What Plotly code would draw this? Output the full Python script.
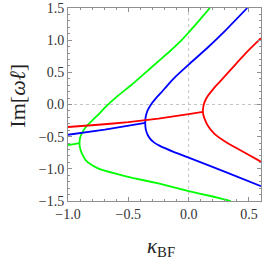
import plotly.graph_objects as go

# ---- data ----
green_short_x = [-1.0, -0.95, -0.905]
green_short_y = [-0.63, -0.615, -0.60]
green_up_x = [-0.905, -0.902, -0.895, -0.88, -0.86, -0.838, -0.80, -0.755, -0.69, -0.59, -0.47, -0.30, -0.16, -0.058, 0.0, 0.09, 0.176]
green_up_y = [-0.60, -0.54, -0.49, -0.43, -0.37, -0.32, -0.25, -0.17, -0.04, 0.13, 0.31, 0.59, 0.82, 1.0, 1.12, 1.31, 1.5]
green_lo_x = [-0.905, -0.902, -0.895, -0.88, -0.852, -0.80, -0.742, -0.604, -0.467, -0.242, 0.0, 0.2, 0.35]
green_lo_y = [-0.60, -0.66, -0.71, -0.78, -0.868, -0.945, -1.0, -1.075, -1.14, -1.23, -1.345, -1.43, -1.5]

blue_merge_x = [-1.0, -0.695, -0.36]
blue_merge_y = [-0.47, -0.39, -0.285]
blue_up_x = [-0.36, -0.358, -0.352, -0.34, -0.322, -0.30, -0.27, -0.23, -0.17, -0.104, 0.0, 0.15, 0.30, 0.486]
blue_up_y = [-0.285, -0.22, -0.16, -0.09, -0.03, 0.03, 0.10, 0.18, 0.31, 0.44, 0.62, 0.87, 1.14, 1.5]
blue_lo_x = [-0.36, -0.358, -0.352, -0.34, -0.32, -0.29, -0.242, -0.12, 0.0, 0.308, 0.6]
blue_lo_y = [-0.285, -0.35, -0.41, -0.47, -0.53, -0.585, -0.64, -0.74, -0.826, -1.05, -1.27]

red_merge_x = [-1.0, -0.75, -0.5, -0.25, 0.0, 0.118]
red_merge_y = [-0.35, -0.315, -0.275, -0.22, -0.15, -0.115]
red_up_x = [0.118, 0.120, 0.126, 0.140, 0.160, 0.185, 0.226, 0.267, 0.363, 0.47, 0.583, 0.6]
red_up_y = [-0.115, -0.06, 0.0, 0.07, 0.135, 0.196, 0.29, 0.37, 0.57, 0.79, 1.0, 1.03]
red_lo_x = [0.118, 0.122, 0.132, 0.157, 0.212, 0.308, 0.418, 0.569, 0.6]
red_lo_y = [-0.115, -0.16, -0.22, -0.322, -0.452, -0.582, -0.70, -0.857, -0.89]

x_ticks = [-1.0, -0.5, 0.0, 0.5]
y_ticks = [-1.5, -1.0, -0.5, 0.0, 0.5, 1.0, 1.5]

GREEN, BLUE, RED = "#00ff00", "#0000ff", "#ff0000"

fig = go.Figure()
series = [
    (green_short_x, green_short_y, GREEN), (green_up_x, green_up_y, GREEN), (green_lo_x, green_lo_y, GREEN),
    (blue_merge_x, blue_merge_y, BLUE), (blue_up_x, blue_up_y, BLUE), (blue_lo_x, blue_lo_y, BLUE),
    (red_merge_x, red_merge_y, RED), (red_up_x, red_up_y, RED), (red_lo_x, red_lo_y, RED),
]
for xs, ys, c in series:
    fig.add_trace(go.Scatter(x=xs, y=ys, mode="lines",
                             line=dict(color=c, width=1.8, shape="spline", smoothing=0.4),
                             showlegend=False, hoverinfo="skip", cliponaxis=True))

# dotted reference lines at 0
fig.add_shape(type="line", xref="x", yref="paper", x0=0, x1=0, y0=0, y1=1,
              line=dict(color="#c4c4c4", width=1, dash="dot"), layer="below")
fig.add_shape(type="line", xref="paper", yref="y", x0=0, x1=1, y0=0, y1=0,
              line=dict(color="#c4c4c4", width=1, dash="dot"), layer="below")

axis_common = dict(
    showgrid=False, zeroline=False, showline=True, linecolor="#909090", linewidth=1,
    mirror="ticks", ticks="inside", ticklen=4, tickcolor="#909090", tickwidth=1,
    tickfont=dict(family="Liberation Serif", size=14, color="#333333"),
    tickformat=".1f", automargin=False,
)
fig.update_xaxes(range=[-1.0, 0.6], tickvals=x_ticks,
                 minor=dict(dtick=0.1, tick0=0, ticks="inside", ticklen=2, tickcolor="#909090"),
                 **axis_common)
fig.update_yaxes(range=[-1.5, 1.5], tickvals=y_ticks,
                 minor=dict(dtick=0.1, tick0=0, ticks="inside", ticklen=2, tickcolor="#909090"),
                 **axis_common)

fig.add_annotation(text="Im[<i>ω</i><i>ℓ</i>]", xref="paper", yref="paper", x=-0.26, y=0.545,
                   xanchor="center", yanchor="middle",
                   showarrow=False, textangle=-90,
                   font=dict(family="Liberation Serif", size=22, color="#222222"))
fig.add_annotation(text="<i>κ</i><sub>BF</sub>", xref="paper", yref="paper", x=0.48, y=-0.24,
                   xanchor="center", yanchor="middle",
                   showarrow=False,
                   font=dict(family="Liberation Serif", size=21, color="#222222"))

fig.update_layout(width=263, height=259, margin=dict(l=68, r=2, t=8, b=58, autoexpand=False),
                  paper_bgcolor="white", plot_bgcolor="white")
fig.write_html("out.html", config={"displayModeBar": False, "staticPlot": True},
               post_script="document.body.style.margin='0';document.body.style.overflow='hidden';")
